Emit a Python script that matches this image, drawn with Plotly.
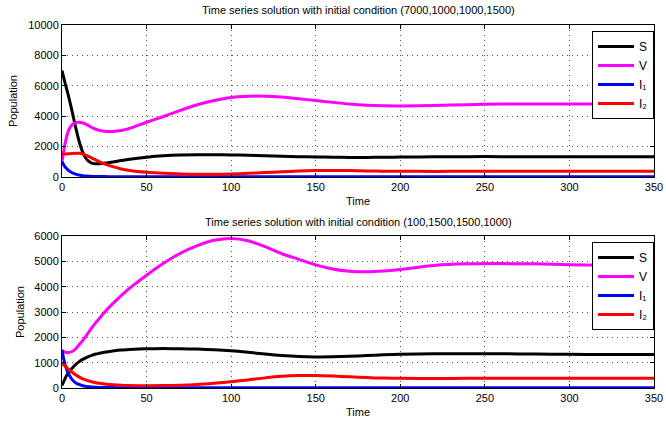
import plotly.graph_objects as go

# time grid shared by all series
T = [0, 1, 2, 3, 4, 6, 8, 10, 12, 14, 16, 18, 20, 22, 25, 30, 35, 40, 50, 60, 70, 80,
     90, 100, 110, 120, 130, 140, 150, 160, 170, 180, 190, 200, 220, 240, 260, 280,
     300, 320, 340, 350]

# top panel: initial condition (7000,1000,1000,1500)
S_top = [7000, 6550, 6100, 5680, 5250, 4300, 3300, 2400, 1700, 1250, 1020, 900, 870, 870,
         900, 980, 1080, 1170, 1300, 1390, 1440, 1460, 1460, 1450, 1430, 1400, 1370, 1340,
         1320, 1300, 1290, 1290, 1300, 1310, 1330, 1340, 1340, 1340, 1335, 1330, 1330, 1330]
V_top = [1000, 1700, 2300, 2750, 3100, 3450, 3570, 3600, 3570, 3480, 3360, 3240, 3140, 3070,
         3010, 3000, 3060, 3200, 3600, 3980, 4380, 4750, 5030, 5230, 5310, 5320, 5260, 5150,
         5030, 4910, 4800, 4720, 4680, 4670, 4700, 4760, 4800, 4810, 4810, 4800, 4790, 4780]
I1_top = [1000, 800, 640, 520, 420, 280, 190, 130, 90, 65, 50, 40, 35, 30, 25, 20, 18, 15,
          12, 12, 12, 12, 12, 12, 12, 12, 12, 12, 12, 12, 12, 12, 12, 12, 12, 12, 12, 12,
          12, 12, 12, 12]
I2_top = [1500, 1505, 1510, 1520, 1530, 1550, 1560, 1560, 1520, 1440, 1340, 1230, 1120, 1010,
          870, 680, 530, 430, 310, 240, 200, 180, 180, 200, 240, 290, 340, 390, 420, 430,
          420, 400, 385, 375, 370, 375, 380, 380, 380, 380, 380, 380]

# bottom panel: initial condition (100,1500,1500,1000)
S_bot = [100, 250, 400, 520, 620, 780, 920, 1030, 1120, 1190, 1250, 1300, 1340, 1370, 1410,
         1460, 1500, 1520, 1545, 1555, 1550, 1535, 1510, 1470, 1410, 1340, 1280, 1240, 1225,
         1230, 1250, 1280, 1310, 1330, 1350, 1355, 1350, 1340, 1330, 1325, 1325, 1325]
V_bot = [1500, 1440, 1410, 1400, 1405, 1440, 1540, 1700, 1850, 2030, 2220, 2410, 2580, 2740,
         2980, 3330, 3650, 3940, 4450, 4920, 5320, 5620, 5830, 5900, 5810, 5580, 5300, 5080,
         4860, 4700, 4610, 4590, 4620, 4680, 4840, 4900, 4910, 4900, 4870, 4850, 4830, 4820]
I1_bot = [1500, 1150, 890, 690, 540, 330, 210, 140, 95, 65, 45, 35, 28, 24, 20, 15, 13, 12,
          10, 10, 10, 10, 10, 10, 10, 10, 10, 10, 10, 10, 10, 10, 10, 10, 10, 10, 10, 10,
          10, 10, 10, 10]
I2_bot = [1000, 920, 850, 790, 730, 620, 520, 440, 370, 320, 275, 240, 210, 185, 160, 130,
          110, 100, 90, 95, 110, 140, 190, 250, 320, 400, 460, 490, 490, 470, 440, 410, 390,
          380, 375, 380, 385, 385, 385, 385, 385, 385]

names = ["S", "V", "I₁", "I₂"]
colors = ["#000000", "#FF00FF", "#0000FF", "#FF0000"]
titles = ["Time series solution with initial condition (7000,1000,1000,1500)",
          "Time series solution with initial condition (100,1500,1500,1000)"]

x_ticks = [0, 50, 100, 150, 200, 250, 300, 350]
y_ticks_top = [0, 2000, 4000, 6000, 8000, 10000]
y_ticks_bot = [0, 1000, 2000, 3000, 4000, 5000, 6000]

W, H = 666, 422
FONT = "Liberation Sans, Arial, Helvetica, sans-serif"

fig = go.Figure()
for ys, nm, c in zip([S_top, V_top, I1_top, I2_top], names, colors):
    fig.add_trace(go.Scatter(x=T, y=ys, name=nm, mode="lines",
                             line=dict(color=c, width=3, shape="spline", smoothing=0.8),
                             xaxis="x", yaxis="y", legend="legend"))
for ys, nm, c in zip([S_bot, V_bot, I1_bot, I2_bot], names, colors):
    fig.add_trace(go.Scatter(x=T, y=ys, name=nm, mode="lines",
                             line=dict(color=c, width=3, shape="spline", smoothing=0.8),
                             xaxis="x2", yaxis="y2", legend="legend2"))

ml, mr, mt, mb = 62, 12, 0, 0
PW = W - ml - mr
top_dom = [1 - 177 / H, 1 - 25 / H]
bot_dom = [1 - 388 / H, 1 - 236 / H]

axis_common = dict(showline=True, linecolor="black", linewidth=1, mirror="ticks",
                   ticks="inside", ticklen=4, tickcolor="black", automargin=False,
                   showgrid=True, gridcolor="#555555", griddash="1px,4px", gridwidth=1,
                   zeroline=False, tickformat="d",
                   tickfont=dict(family=FONT, size=11, color="black"))

def px_x(p):
    return (p - ml) / PW

legend_common = dict(x=1, xanchor="right", yanchor="top",
                     bgcolor="white", bordercolor="black", borderwidth=1,
                     font=dict(family=FONT, size=12), tracegroupgap=0, itemwidth=36)

fig.update_layout(
    width=W, height=H, margin=dict(l=ml, r=mr, t=mt, b=mb),
    paper_bgcolor="white", plot_bgcolor="white",
    font=dict(family=FONT, size=11, color="black"),
    xaxis=dict(domain=[0, 1], range=[0, 350], tickvals=x_ticks, anchor="y", **axis_common),
    yaxis=dict(domain=top_dom, range=[0, 10000], tickvals=y_ticks_top, anchor="x", **axis_common),
    xaxis2=dict(domain=[0, 1], range=[0, 350], tickvals=x_ticks, anchor="y2", **axis_common),
    yaxis2=dict(domain=bot_dom, range=[0, 6000], tickvals=y_ticks_bot, anchor="x2", **axis_common),
    legend=dict(y=1 - 31 / H, **legend_common),
    legend2=dict(y=1 - 242 / H, **legend_common),
    annotations=[
        dict(text=titles[0], xref="paper", yref="paper", x=0.5, y=1 - 10 / H,
             xanchor="center", yanchor="middle", showarrow=False,
             font=dict(family=FONT, size=11)),
        dict(text=titles[1], xref="paper", yref="paper", x=0.5, y=1 - 222 / H,
             xanchor="center", yanchor="middle", showarrow=False,
             font=dict(family=FONT, size=11)),
        dict(text="Time", xref="paper", yref="paper", x=0.5, y=1 - 201 / H,
             xanchor="center", yanchor="middle", showarrow=False,
             font=dict(family=FONT, size=11)),
        dict(text="Time", xref="paper", yref="paper", x=0.5, y=1 - 412 / H,
             xanchor="center", yanchor="middle", showarrow=False,
             font=dict(family=FONT, size=11)),
        dict(text="Population", xref="paper", yref="paper", x=px_x(13), y=1 - 101 / H,
             xanchor="center", yanchor="middle", showarrow=False, textangle=-90,
             font=dict(family=FONT, size=11)),
        dict(text="Population", xref="paper", yref="paper", x=px_x(20), y=1 - 312 / H,
             xanchor="center", yanchor="middle", showarrow=False, textangle=-90,
             font=dict(family=FONT, size=11)),
    ],
)

fig.write_html("out.html", config={"displayModeBar": False},
               post_script="document.body.style.margin='0';document.body.style.padding='0';")
